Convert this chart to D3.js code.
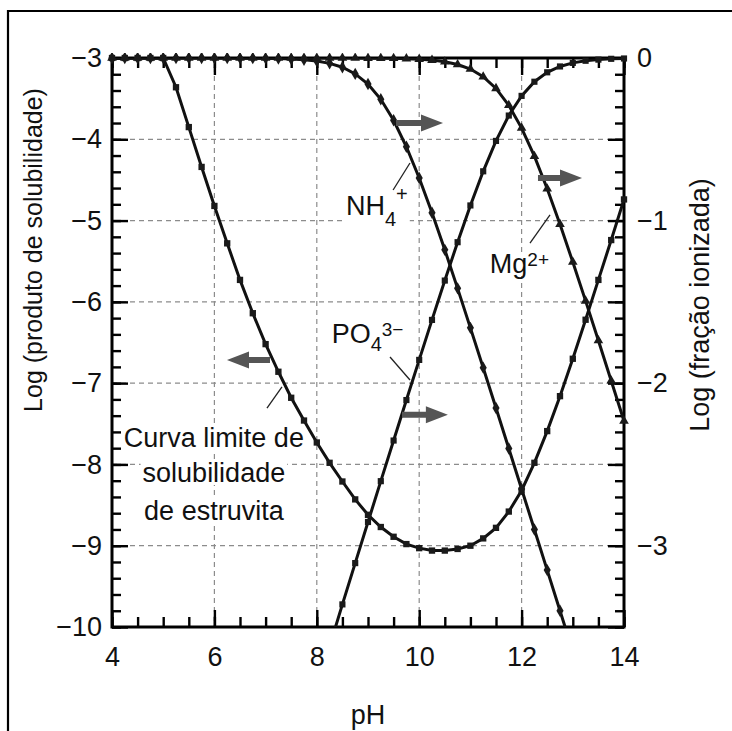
<!DOCTYPE html>
<html>
<head>
<meta charset="utf-8">
<script src="https://cdn.jsdelivr.net/npm/d3@7"></script>
<style>
  body { margin: 0; background: #fff; }
  svg { display: block; font-family: "Liberation Sans", Arial, Helvetica, sans-serif; }
</style>
</head>
<body>
<svg id="chart" width="732" height="731"></svg>
<script>
// pH grid used for every curve (one marker every 0.25)
const phValues = [4, 4.25, 4.5, 4.75, 5, 5.25, 5.5, 5.75, 6, 6.25, 6.5, 6.75, 7, 7.25, 7.5, 7.75,
  8, 8.25, 8.5, 8.75, 9, 9.25, 9.5, 9.75, 10, 10.25, 10.5, 10.75, 11, 11.25, 11.5, 11.75,
  12, 12.25, 12.5, 12.75, 13, 13.25, 13.5, 13.75, 14];

// Log (produto de solubilidade) - left axis
const solubilityLog = [-3, -3, -3, -3, -3, -3.36, -3.85, -4.34, -4.82, -5.28, -5.73, -6.14, -6.52, -6.86, -7.18, -7.46,
  -7.73, -7.98, -8.21, -8.43, -8.62, -8.77, -8.89, -8.98, -9.03, -9.06, -9.06, -9.04, -9.00, -8.91, -8.78, -8.58,
  -8.32, -7.98, -7.59, -7.16, -6.70, -6.22, -5.73, -5.24, -4.74];

// Log (fração ionizada) - right axis
const nh4Log = [0, 0, 0, 0, 0, 0, 0, 0, 0, 0, -0.001, -0.001, -0.002, -0.003, -0.006, -0.011,
  -0.019, -0.033, -0.057, -0.098, -0.160, -0.254, -0.383, -0.546, -0.738, -0.952, -1.180, -1.417, -1.660, -1.905, -2.153, -2.402,
  -2.651, -2.900, -3.150, -3.400, -3.650, null, null, null, null];

const mgLog = [0, 0, 0, 0, 0, 0, 0, 0, 0, 0, 0, 0, 0, 0, 0, 0,
  0, 0, 0, 0, -0.001, -0.001, -0.002, -0.004, -0.007, -0.013, -0.023, -0.040, -0.068, -0.115, -0.187, -0.291,
  -0.431, -0.604, -0.804, -1.023, -1.255, -1.494, -1.738, -1.985, -2.233];

const po4Log = [null, null, null, null, null, null, null, null, null, null, null, null, null, null, null, null,
  -3.884, -3.619, -3.361, -3.107, -2.854, -2.603, -2.353, -2.104, -1.857, -1.611, -1.369, -1.133, -0.907, -0.697, -0.510, -0.354,
  -0.233, -0.146, -0.088, -0.052, -0.030, -0.017, -0.010, -0.005, -0.003];

// tick labels
const xTicks = [4, 6, 8, 10, 12, 14];
const leftTicks = [-3, -4, -5, -6, -7, -8, -9, -10];
const rightTicks = [0, -1, -2, -3];

const width = 732, height = 731;
const margin = { left: 112, right: 108, top: 58, bottom: 104 };
const w = width - margin.left - margin.right;
const h = height - margin.top - margin.bottom;

const svg = d3.select('#chart');

// outer frame of the figure
svg.append('path')
  .attr('d', `M8,${height} V11 H${width}`)
  .attr('fill', 'none')
  .attr('stroke', '#000')
  .attr('stroke-width', 2.2);

const g = svg.append('g')
  .attr('transform', `translate(${margin.left},${margin.top})`);

// Scales
const x = d3.scaleLinear().domain([4, 14]).range([0, w]);
const yLeft = d3.scaleLinear().domain([-3, -10]).range([0, h]);
const yRight = d3.scaleLinear().domain([0, -3.5]).range([0, h]);

// clip paths
const defs = svg.append('defs');
defs.append('clipPath').attr('id', 'plot-clip')
  .append('rect').attr('width', w).attr('height', h);
defs.append('clipPath').attr('id', 'marker-clip')
  .append('rect').attr('x', -5).attr('y', -5).attr('width', w + 10).attr('height', h + 5);

// Grid
const grid = g.append('g').attr('class', 'grid')
  .attr('stroke', '#8c8c8c')
  .attr('stroke-width', 1.2)
  .attr('stroke-dasharray', '5,4');

grid.selectAll('line.v')
  .data([6, 8, 10, 12])
  .enter().append('line')
  .attr('x1', d => x(d)).attr('x2', d => x(d))
  .attr('y1', 0).attr('y2', h);

grid.selectAll('line.h')
  .data([-4, -5, -6, -7, -8, -9])
  .enter().append('line')
  .attr('y1', d => yLeft(d)).attr('y2', d => yLeft(d))
  .attr('x1', 0).attr('x2', w);

// Axes (ticks pointing inward)
const fmt = d3.format('d');

function styleAxis(sel) {
  sel.select('.domain').remove();
  sel.selectAll('.tick line').attr('stroke', '#000').attr('stroke-width', 2.4);
  sel.selectAll('.tick text').attr('fill', '#111').style('font-size', '27px');
}

g.append('g')
  .call(d3.axisLeft(yLeft).tickValues(d3.range(-3, -10.01, -0.2)).tickSize(-9).tickFormat(''))
  .call(styleAxis);
g.append('g')
  .call(d3.axisLeft(yLeft).tickValues(leftTicks).tickSize(-16).tickPadding(10).tickFormat(fmt))
  .call(styleAxis);

g.append('g')
  .attr('transform', `translate(${w},0)`)
  .call(d3.axisRight(yRight).tickValues(d3.range(0, -3.51, -0.1)).tickSize(-9).tickFormat(''))
  .call(styleAxis);
g.append('g')
  .attr('transform', `translate(${w},0)`)
  .call(d3.axisRight(yRight).tickValues(d3.range(0, -3.51, -0.5)).tickSize(-16).tickFormat(''))
  .call(styleAxis);
g.append('g')
  .attr('transform', `translate(${w},0)`)
  .call(d3.axisRight(yRight).tickValues(rightTicks).tickSize(0).tickPadding(13).tickFormat(fmt))
  .call(styleAxis);

g.append('g')
  .attr('transform', `translate(0,${h})`)
  .call(d3.axisBottom(x).tickValues(d3.range(4, 14.01, 0.5)).tickSize(-10).tickFormat(''))
  .call(styleAxis);
g.append('g')
  .attr('transform', `translate(0,${h})`)
  .call(d3.axisBottom(x).tickValues(xTicks).tickSize(-17).tickPadding(20).tickFormat(fmt))
  .call(styleAxis);

g.append('g')
  .call(d3.axisTop(x).tickValues(d3.range(4, 14.01, 0.5)).tickSize(-10).tickFormat(''))
  .call(styleAxis);
g.append('g')
  .call(d3.axisTop(x).tickValues(xTicks).tickSize(-17).tickFormat(''))
  .call(styleAxis);

// frame of the plot area
g.append('rect')
  .attr('width', w).attr('height', h)
  .attr('fill', 'none')
  .attr('stroke', '#000')
  .attr('stroke-width', 3);

// Axis titles
svg.append('text')
  .attr('transform', `translate(33,250) rotate(-90)`)
  .attr('text-anchor', 'middle')
  .attr('dy', '0.35em')
  .style('font-size', '25px')
  .attr('fill', '#111')
  .text('Log (produto de solubilidade)');

svg.append('text')
  .attr('transform', `translate(700,305) rotate(-90)`)
  .attr('text-anchor', 'middle')
  .attr('dy', '0.35em')
  .style('font-size', '27px')
  .attr('fill', '#111')
  .text('Log (fração ionizada)');

svg.append('text')
  .attr('x', margin.left + w / 2)
  .attr('y', 724)
  .attr('text-anchor', 'middle')
  .style('font-size', '27px')
  .attr('fill', '#111')
  .text('pH');

// label backgrounds + labels (annotation positions in data units)
const ann = g.append('g');

function label(pH, yVal, parts, anchor) {
  const t = ann.append('text')
    .attr('x', x(pH)).attr('y', yLeft(yVal))
    .attr('text-anchor', anchor || 'start')
    .attr('fill', '#111');
  parts.forEach(p => {
    t.append('tspan')
      .attr('dy', p.dy || 0)
      .style('font-size', (p.size || 27) + 'px')
      .text(p.text);
  });
  return t;
}

const labels = [
  label(8.57, -4.93, [{ text: 'NH' }, { text: '4', size: 20, dy: 11 }, { text: '+', size: 20, dy: -25 }]),
  label(11.38, -5.645, [{ text: 'Mg' }, { text: '2+', size: 19, dy: -7 }]),
  label(8.29, -6.506, [{ text: 'PO' }, { text: '4', size: 20, dy: 8 }, { text: '3\u2212', size: 19, dy: -15 }])
];
const curvaLines = ['Curva limite de', 'solubilidade', 'de estruvita'];
const curvaY = [-7.785, -8.216, -8.683];
curvaLines.forEach((s, i) => {
  labels.push(label(5.99, curvaY[i], [{ text: s }], 'middle'));
});

// white boxes behind labels so that the grid stops at the text
labels.forEach(t => {
  const b = t.node().getBBox();
  ann.insert('rect', 'text')
    .attr('x', b.x - 2).attr('y', b.y + 3)
    .attr('width', b.width + 4).attr('height', b.height - 6)
    .attr('fill', '#fff');
});

// Curves
const curves = [
  { values: solubilityLog, scale: yLeft, symbol: d3.symbolSquare, size: 40 },
  { values: nh4Log, scale: yRight, symbol: d3.symbolDiamond, size: 44 },
  { values: mgLog, scale: yRight, symbol: d3.symbolTriangle, size: 40 },
  { values: po4Log, scale: yRight, symbol: d3.symbolSquare, size: 38 }
];

const lineLayer = g.append('g').attr('clip-path', 'url(#plot-clip)');
const markLayer = g.append('g').attr('clip-path', 'url(#marker-clip)');

curves.forEach(c => {
  const pts = phValues.map((p, i) => ({ pH: p, v: c.values[i] }));
  const line = d3.line()
    .defined(d => d.v !== null)
    .x(d => x(d.pH))
    .y(d => c.scale(d.v));

  lineLayer.append('path')
    .datum(pts)
    .attr('d', line)
    .attr('fill', 'none')
    .attr('stroke', '#111')
    .attr('stroke-width', 3);

  markLayer.selectAll(null)
    .data(pts.filter(d => d.v !== null))
    .enter().append('path')
    .attr('transform', d => `translate(${x(d.pH)},${c.scale(d.v)})`)
    .attr('d', d3.symbol().type(c.symbol).size(c.size))
    .attr('fill', '#1a1a1a');
});

// leader lines from labels to curves
const leaders = [
  [9.49, -4.624, 9.82, -4.292],
  [12.164, -5.276, 12.555, -4.931],
  [9.43, -6.678, 9.82, -6.961],
  [7.027, -7.306, 7.32, -7.047]
];
ann.selectAll('line.leader')
  .data(leaders)
  .enter().append('line')
  .attr('x1', d => x(d[0])).attr('y1', d => yLeft(d[1]))
  .attr('x2', d => x(d[2])).attr('y2', d => yLeft(d[3]))
  .attr('stroke', '#222')
  .attr('stroke-width', 1.3);

// arrows telling which axis a curve is read on
const arrows = [
  { from: 9.547, to: 10.465, y: -3.80 },
  { from: 12.32, to: 13.18, y: -4.476 },
  { from: 9.664, to: 10.56, y: -7.39 },
  { from: 7.086, to: 6.246, y: -6.715 }
];
g.selectAll('path.arrow')
  .data(arrows)
  .enter().append('path')
  .attr('class', 'arrow')
  .attr('fill', '#555')
  .attr('d', d => {
    const x0 = x(d.from), x1 = x(d.to), yy = yLeft(d.y);
    const dir = Math.sign(x1 - x0);
    const xh = x1 - dir * 22;
    return `M${x0},${yy - 3}H${xh}V${yy - 8.5}L${x1},${yy}L${xh},${yy + 8.5}V${yy + 3}H${x0}Z`;
  });
</script>
</body>
</html>
